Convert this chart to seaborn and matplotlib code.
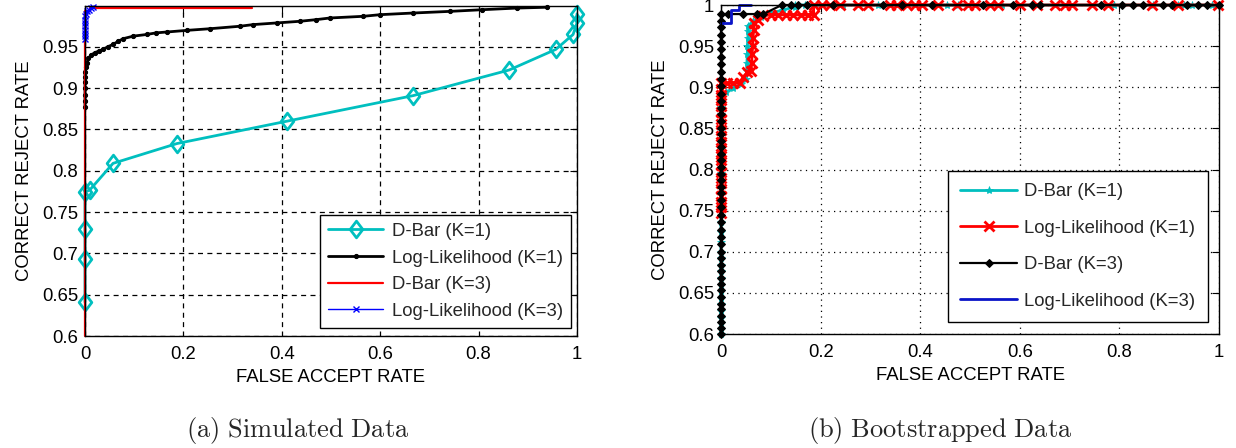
import numpy as np
import pandas as pd
import seaborn as sns
import matplotlib
matplotlib.use("Agg")
import matplotlib.pyplot as plt
from matplotlib.path import Path

# ---------------------------------------------------------------- data ----
# Panel (a): simulated data
sim_dbar1_x = [0.0, 0.0, 0.0, 0.0, 0.010, 0.057, 0.187, 0.410, 0.667, 0.862,
               0.957, 0.992, 1.0, 1.0]
sim_dbar1_y = [0.641, 0.693, 0.730, 0.774, 0.777, 0.809, 0.833, 0.860, 0.891,
               0.922, 0.947, 0.965, 0.979, 0.990]

sim_ll1_x = [0.0, 0.0, 0.0, 0.0, 0.0, 0.0, 0.0, 0.002, 0.004, 0.007, 0.012,
             0.020, 0.028, 0.037, 0.046, 0.057, 0.068, 0.078, 0.098, 0.125,
             0.145, 0.166, 0.207, 0.254, 0.315, 0.342, 0.390, 0.437, 0.470,
             0.498, 0.565, 0.600, 0.667, 0.742, 0.807, 0.878, 0.940]
sim_ll1_y = [0.877, 0.885, 0.892, 0.900, 0.907, 0.913, 0.920, 0.926, 0.931,
             0.936, 0.940, 0.943, 0.945, 0.947, 0.950, 0.953, 0.957, 0.960,
             0.963, 0.965, 0.967, 0.968, 0.970, 0.972, 0.975, 0.977, 0.979,
             0.981, 0.983, 0.985, 0.987, 0.989, 0.991, 0.993, 0.995, 0.997,
             0.998]

sim_dbar3_x = [0.0, 0.0, 0.010, 0.010, 0.340]
sim_dbar3_y = [0.600, 0.993, 0.993, 0.997, 0.997]

sim_ll3_x = [0.0, 0.0, 0.0, 0.0, 0.0, 0.0, 0.0, 0.0, 0.003, 0.005, 0.008,
             0.012, 0.016]
sim_ll3_y = [0.959, 0.963, 0.967, 0.971, 0.975, 0.979, 0.983, 0.987, 0.990,
             0.993, 0.995, 0.997, 0.998]

# Panel (b): bootstrapped data
bs_dbar1_x = [0.0, 0.0, 0.0, 0.0, 0.0, 0.0, 0.0, 0.0, 0.0, 0.0, 0.0, 0.0,
              0.0, 0.0, 0.0, 0.0, 0.0, 0.0, 0.0, 0.0, 0.0, 0.0, 0.0, 0.0,
              0.0, 0.0, 0.0, 0.0, 0.0, 0.0, 0.0, 0.0,
              0.010, 0.025, 0.040, 0.050, 0.052, 0.052, 0.053, 0.053, 0.054,
              0.054, 0.054, 0.065, 0.080, 0.100, 0.125, 0.149,
              0.149, 0.168, 0.245, 0.315, 0.453, 0.476, 0.565, 0.790, 0.868,
              0.905, 0.918, 0.930, 0.946, 0.985]
bs_dbar1_y = [0.600, 0.606, 0.613, 0.620, 0.628, 0.636, 0.644, 0.652, 0.660,
              0.668, 0.676, 0.684, 0.692, 0.700, 0.712, 0.724, 0.736, 0.748,
              0.760, 0.772, 0.784, 0.796, 0.808, 0.818, 0.828, 0.838, 0.848,
              0.858, 0.867, 0.876, 0.884, 0.890,
              0.894, 0.899, 0.904, 0.910, 0.920, 0.930, 0.940, 0.950, 0.960,
              0.968, 0.975, 0.980, 0.985, 0.990, 0.994, 0.998,
              1.0, 1.0, 1.0, 1.0, 1.0, 1.0, 1.0, 1.0, 1.0,
              1.0, 1.0, 1.0, 1.0, 1.0]

bs_ll1_x = [0.0, 0.0, 0.0, 0.0, 0.0, 0.0, 0.0, 0.0, 0.0, 0.0, 0.0, 0.0,
            0.0, 0.0, 0.0, 0.0, 0.0, 0.0, 0.0, 0.0, 0.0, 0.0, 0.0,
            0.012, 0.025, 0.038, 0.045, 0.052, 0.060, 0.062, 0.062, 0.064,
            0.064, 0.066, 0.066, 0.075, 0.085, 0.100, 0.115, 0.130, 0.145,
            0.160, 0.175, 0.186, 0.186,
            0.202, 0.219, 0.239, 0.275, 0.295, 0.339, 0.353, 0.373, 0.390,
            0.403, 0.436, 0.474, 0.496, 0.510, 0.540, 0.556, 0.600, 0.634,
            0.671, 0.690, 0.705, 0.745, 0.777, 0.865, 0.918, 0.998]
bs_ll1_y = [0.747, 0.754, 0.761, 0.768, 0.776, 0.783, 0.790, 0.797, 0.805,
            0.812, 0.819, 0.826, 0.834, 0.841, 0.848, 0.855, 0.862, 0.870,
            0.877, 0.884, 0.891, 0.898, 0.905,
            0.905, 0.905, 0.905, 0.912, 0.918, 0.920, 0.930, 0.940, 0.950,
            0.960, 0.970, 0.978, 0.982, 0.987, 0.988, 0.988, 0.988, 0.988,
            0.988, 0.988, 0.988, 1.0,
            1.0, 1.0, 1.0, 1.0, 1.0, 1.0, 1.0, 1.0, 1.0,
            1.0, 1.0, 1.0, 1.0, 1.0, 1.0, 1.0, 1.0, 1.0,
            1.0, 1.0, 1.0, 1.0, 1.0, 1.0, 1.0, 1.0]

bs_dbar3_x = [0.0, 0.0, 0.0, 0.0, 0.0, 0.0, 0.0, 0.0, 0.0, 0.0, 0.0, 0.0,
              0.0, 0.0, 0.0, 0.0, 0.0, 0.0, 0.0, 0.0, 0.0, 0.0, 0.0, 0.0,
              0.0, 0.0, 0.0, 0.0, 0.0, 0.0, 0.0, 0.0, 0.0, 0.0, 0.0, 0.0,
              0.0, 0.0, 0.0, 0.0, 0.0, 0.0, 0.0, 0.0, 0.0, 0.0, 0.0, 0.0,
              0.014, 0.044, 0.072, 0.085, 0.122,
              0.141, 0.155, 0.172, 0.225, 0.325, 0.363, 0.423, 0.527, 0.587,
              0.624, 0.641, 0.764, 0.805, 0.828, 0.848, 0.888, 0.905, 0.935,
              0.958, 0.975, 0.999]
bs_dbar3_y = [0.600, 0.607, 0.614, 0.622, 0.630, 0.637, 0.645, 0.653, 0.661,
              0.668, 0.676, 0.684, 0.692, 0.700, 0.709, 0.718, 0.727, 0.736,
              0.745, 0.754, 0.763, 0.771, 0.779, 0.787, 0.795, 0.803, 0.811,
              0.819, 0.827, 0.835, 0.843, 0.851, 0.859, 0.867, 0.875, 0.883,
              0.892, 0.901, 0.910, 0.919, 0.928, 0.937, 0.946, 0.955, 0.964,
              0.973, 0.981, 0.989,
              0.989, 0.989, 0.989, 0.989, 1.0,
              1.0, 1.0, 1.0, 1.0, 1.0, 1.0, 1.0, 1.0, 1.0,
              1.0, 1.0, 1.0, 1.0, 1.0, 1.0, 1.0, 1.0, 1.0,
              1.0, 1.0, 1.0]

bs_ll3_x = [0.0, 0.021, 0.021, 0.036, 0.036, 0.060]
bs_ll3_y = [0.978, 0.978, 0.994, 0.994, 1.0, 1.0]

series_labels = ["D-Bar (K=1)", "Log-Likelihood (K=1)",
                 "D-Bar (K=3)", "Log-Likelihood (K=3)"]

x_ticks = [0.0, 0.2, 0.4, 0.6, 0.8, 1.0]
x_tick_labels = ["0", "0.2", "0.4", "0.6", "0.8", "1"]
sim_y_ticks = [0.6, 0.65, 0.7, 0.75, 0.8, 0.85, 0.9, 0.95]
sim_y_tick_labels = ["0.6", "0.65", "0.7", "0.75", "0.8", "0.85", "0.9", "0.95"]
bs_y_ticks = [0.6, 0.65, 0.7, 0.75, 0.8, 0.85, 0.9, 0.95, 1.0]
bs_y_tick_labels = ["0.6", "0.65", "0.7", "0.75", "0.8", "0.85", "0.9", "0.95", "1"]

captions = [r"$\mathrm{(a)\ Simulated\ Data}$", r"$\mathrm{(b)\ Bootstrapped\ Data}$"]
x_label = "FALSE ACCEPT RATE"
y_label = "CORRECT REJECT RATE"

# --------------------------------------------------------------- style ----
sns.set_style("white")
plt.rcParams["font.family"] = ["Liberation Sans", "DejaVu Sans"]
plt.rcParams["mathtext.fontset"] = "cm"

CYAN = "#00BFBF"
RED = "#FF0000"
BLACK = "#000000"
BLUE = "#0000FF"
NAVY = "#0A14C8"
FS = 13.3

diamond = Path([(0, 1), (0.76, 0), (0, -1), (-0.76, 0), (0, 1)],
               [Path.MOVETO, Path.LINETO, Path.LINETO, Path.LINETO, Path.CLOSEPOLY])

fig = plt.figure(figsize=(12.36, 4.48), dpi=100)
ax_a = fig.add_axes([85 / 1236, 1 - 336 / 448, 492 / 1236, 330 / 448])
ax_b = fig.add_axes([721 / 1236, 1 - 334 / 448, 498 / 1236, 329 / 448])


def draw(ax, x, y, label, **kw):
    df = pd.DataFrame({"x": x, "y": y})
    sns.lineplot(data=df, x="x", y="y", sort=False, estimator=None,
                 ax=ax, label=label, clip_on=False, **kw)


# Panel (a)
draw(ax_a, sim_dbar1_x, sim_dbar1_y, series_labels[0], color=CYAN, linewidth=2,
     marker=diamond, markersize=12, markerfacecolor="none",
     markeredgecolor=CYAN, markeredgewidth=2)
draw(ax_a, sim_ll1_x, sim_ll1_y, series_labels[1], color=BLACK, linewidth=2,
     marker="o", markersize=3, markerfacecolor=BLACK, markeredgecolor=BLACK)
draw(ax_a, sim_dbar3_x, sim_dbar3_y, series_labels[2], color=RED, linewidth=1.6)
draw(ax_a, sim_ll3_x, sim_ll3_y, series_labels[3], color=BLUE, linewidth=1,
     marker="x", markersize=5, markeredgecolor=BLUE, markeredgewidth=1)

# Panel (b)
draw(ax_b, bs_dbar1_x, bs_dbar1_y, series_labels[0], color=CYAN, linewidth=2,
     marker="*", markersize=6, markerfacecolor=CYAN, markeredgecolor=CYAN,
     markeredgewidth=0.5)
draw(ax_b, bs_ll1_x, bs_ll1_y, series_labels[1], color=RED, linewidth=2,
     marker="x", markersize=7, markeredgecolor=RED, markeredgewidth=2)
draw(ax_b, bs_dbar3_x, bs_dbar3_y, series_labels[2], color=BLACK, linewidth=1.6,
     marker="D", markersize=4, markerfacecolor=BLACK, markeredgecolor=BLACK)
draw(ax_b, bs_ll3_x, bs_ll3_y, series_labels[3], color=NAVY, linewidth=2)

grid_styles = {ax_a: (0, (4, 3.5)), ax_b: (0, (1, 3.5))}

for ax, yt, ytl, ylim in ((ax_a, sim_y_ticks, sim_y_tick_labels, (0.6, 0.9995)),
                          (ax_b, bs_y_ticks, bs_y_tick_labels, (0.6, 1.0))):
    ax.set_xlim(0, 1)
    ax.set_ylim(*ylim)
    ax.set_xticks(x_ticks)
    ax.set_xticklabels(x_tick_labels)
    ax.set_yticks(yt)
    ax.set_yticklabels(ytl)
    ax.tick_params(direction="in", length=5, width=0.8, top=True, right=True,
                   labelsize=FS, colors="black", pad=5)
    ax.tick_params(axis="x", pad=7)
    ax.grid(True, color="black", linestyle=grid_styles[ax], linewidth=0.9)
    ax.set_axisbelow(True)
    for sp in ax.spines.values():
        sp.set_visible(True)
        sp.set_color("black")
        sp.set_linewidth(1.0)
    ax.set_xlabel(x_label, fontsize=FS, color="black")
    ax.set_ylabel(y_label, fontsize=FS, color="black")
    ax.xaxis.set_label_coords(0.5, -0.1)
    ax.yaxis.set_label_coords(-0.105, 0.5)

leg_a = ax_a.legend(loc="lower right", bbox_to_anchor=(0.988, 0.024),
                    fontsize=FS, frameon=True, fancybox=False, framealpha=1,
                    edgecolor="black", handlelength=3.0, handletextpad=0.45,
                    labelspacing=0.52, borderpad=0.45, borderaxespad=0)
leg_a.get_frame().set_linewidth(1.0)

leg_b = ax_b.legend(loc="lower right", bbox_to_anchor=(0.978, 0.036),
                    fontsize=FS, frameon=True, fancybox=False, framealpha=1,
                    edgecolor="black", handlelength=3.1, handletextpad=0.38,
                    labelspacing=1.05, borderpad=0.68, borderaxespad=0)
leg_b.get_frame().set_linewidth(1.0)

fig.text(298 / 1236, 1 - 430 / 448, captions[0], fontsize=19,
         ha="center", va="center")
fig.text(940 / 1236, 1 - 430 / 448, captions[1], fontsize=19,
         ha="center", va="center")

fig.savefig("out.png", dpi=100, facecolor="white")
